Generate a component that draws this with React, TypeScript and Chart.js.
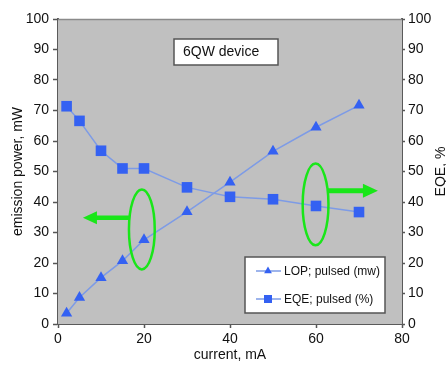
import { useEffect, useRef } from "react";
import { Chart, registerables } from "chart.js";
Chart.register(...registerables);

const currentMA = [2, 5, 10, 15, 20, 30, 40, 50, 60, 70];
const lopMW = [3.5, 8.7, 15.2, 20.7, 27.6, 36.8, 46.5, 56.6, 64.5, 71.7];
const eqePct = [71.4, 66.6, 56.8, 51.0, 51.0, 44.8, 41.7, 40.9, 38.7, 36.7];
const seriesNames = ["LOP; pulsed (mw)", "EQE; pulsed (%)"];
const xTitle = "current, mA";
const yLeftTitle = "emission power, mW";
const yRightTitle = "EQE, %";
const boxLabel = "6QW device";

const FONT = "'Liberation Sans', Arial, Helvetica, sans-serif";
const MARK = "#3461f2";
const LINE = "#7d9be6";
const GREEN = "#19e619";

function drawArrow(ctx: CanvasRenderingContext2D, x1: number, x2: number, y: number, shaft: number, headLen: number, headHalf: number) {
  const dir = Math.sign(x2 - x1);
  const hb = x2 - dir * headLen;
  ctx.fillStyle = GREEN;
  ctx.beginPath();
  ctx.moveTo(x1, y - shaft / 2);
  ctx.lineTo(hb, y - shaft / 2);
  ctx.lineTo(hb, y - headHalf);
  ctx.lineTo(x2, y);
  ctx.lineTo(hb, y + headHalf);
  ctx.lineTo(hb, y + shaft / 2);
  ctx.lineTo(x1, y + shaft / 2);
  ctx.closePath();
  ctx.fill();
}

const decor = {
  id: "decor",
  beforeDatasetsDraw(chart: any) {
    const { ctx, chartArea: a } = chart;
    ctx.save();
    ctx.fillStyle = "#c0c0c0";
    ctx.fillRect(a.left, a.top, a.right - a.left, a.bottom - a.top);
    ctx.strokeStyle = "#8a8a8a";
    ctx.lineWidth = 1.5;
    ctx.beginPath();
    ctx.moveTo(a.left, a.top + 0.5);
    ctx.lineTo(a.right, a.top + 0.5);
    ctx.stroke();
    ctx.restore();
  },
  afterDraw(chart: any) {
    const { ctx, chartArea: a, scales } = chart;
    const xs = scales.x;
    const ys = scales.y;
    ctx.save();
    // green ellipses and arrows
    ctx.strokeStyle = GREEN;
    ctx.lineWidth = 2.5;
    const pxu = (xs.getPixelForValue(10) - xs.getPixelForValue(0)) / 10;
    const pyu = (ys.getPixelForValue(0) - ys.getPixelForValue(10)) / 10;
    ctx.beginPath();
    ctx.ellipse(xs.getPixelForValue(19.5), ys.getPixelForValue(31.0), 3.0 * pxu, 13.1 * pyu, 0, 0, Math.PI * 2);
    ctx.stroke();
    ctx.beginPath();
    ctx.ellipse(xs.getPixelForValue(59.9), ys.getPixelForValue(39.2), 3.0 * pxu, 13.4 * pyu, 0, 0, Math.PI * 2);
    ctx.stroke();
    drawArrow(ctx, xs.getPixelForValue(16.5), xs.getPixelForValue(5.8), ys.getPixelForValue(34.8), 4.5, 14, 6.5);
    drawArrow(ctx, xs.getPixelForValue(62.8), xs.getPixelForValue(74.4), ys.getPixelForValue(43.7), 5, 15, 7);

    // 6QW device box
    const bx = a.left + 116, by = a.top + 20, bw = 104, bh = 26;
    ctx.fillStyle = "#ffffff";
    ctx.fillRect(bx, by, bw, bh);
    ctx.strokeStyle = "#555";
    ctx.lineWidth = 1.5;
    ctx.strokeRect(bx, by, bw, bh);
    ctx.fillStyle = "#111";
    ctx.font = `14px ${FONT}`;
    ctx.textBaseline = "middle";
    ctx.textAlign = "left";
    ctx.fillText(boxLabel, bx + 9, by + bh / 2 + 0.5);

    // legend box
    const lx = a.left + 187, ly = a.top + 238, lw = 140, lh = 56;
    ctx.fillStyle = "#ffffff";
    ctx.fillRect(lx, ly, lw, lh);
    ctx.strokeStyle = "#555";
    ctx.lineWidth = 1.5;
    ctx.strokeRect(lx, ly, lw, lh);
    const rows = [ly + 14, ly + 42];
    ctx.font = `12px ${FONT}`;
    rows.forEach((ry, i) => {
      ctx.strokeStyle = LINE;
      ctx.lineWidth = 1.5;
      ctx.beginPath();
      ctx.moveTo(lx + 11, ry);
      ctx.lineTo(lx + 36, ry);
      ctx.stroke();
      ctx.fillStyle = MARK;
      const cx = lx + 23;
      if (i === 0) {
        const r = 4.5;
        ctx.beginPath();
        ctx.moveTo(cx, ry - r);
        ctx.lineTo(cx + r * 0.866, ry + r * 0.5);
        ctx.lineTo(cx - r * 0.866, ry + r * 0.5);
        ctx.closePath();
        ctx.fill();
      } else {
        ctx.fillRect(cx - 4, ry - 4, 8, 8);
      }
      ctx.fillStyle = "#111";
      ctx.textBaseline = "middle";
      ctx.fillText(seriesNames[i], lx + 39, ry + 0.5);
    });

    // axis titles
    ctx.fillStyle = "#111";
    ctx.font = `14px ${FONT}`;
    ctx.textAlign = "center";
    ctx.textBaseline = "middle";
    ctx.fillText(xTitle, (a.left + a.right) / 2, 355);
    const cy = (a.top + a.bottom) / 2;
    ctx.save();
    ctx.translate(18, cy);
    ctx.rotate(-Math.PI / 2);
    ctx.fillText(yLeftTitle, 0, 0);
    ctx.restore();
    ctx.save();
    ctx.translate(441, cy);
    ctx.rotate(-Math.PI / 2);
    ctx.fillText(yRightTitle, 0, 0);
    ctx.restore();
    ctx.restore();
  },
};

export default function App() {
  const ref = useRef<HTMLCanvasElement>(null);
  useEffect(() => {
    if (!ref.current) return;
    const tickFont = { family: FONT, size: 14 };
    const chart = new Chart(ref.current, {
      type: "line",
      data: {
        datasets: [
          {
            label: seriesNames[0],
            data: currentMA.map((x, i) => ({ x, y: lopMW[i] })),
            yAxisID: "y",
            borderColor: LINE,
            borderWidth: 1.5,
            backgroundColor: MARK,
            pointBackgroundColor: MARK,
            pointBorderColor: MARK,
            pointStyle: "triangle",
            pointRadius: 6.5,
            pointBorderWidth: 0,
            tension: 0,
          },
          {
            label: seriesNames[1],
            data: currentMA.map((x, i) => ({ x, y: eqePct[i] })),
            yAxisID: "y1",
            borderColor: LINE,
            borderWidth: 1.5,
            backgroundColor: MARK,
            pointBackgroundColor: MARK,
            pointBorderColor: MARK,
            pointStyle: "rect",
            pointRadius: 7.5,
            pointBorderWidth: 0,
            tension: 0,
          },
        ],
      },
      options: {
        responsive: false,
        animation: false,
        layout: { padding: { top: 19, left: 0, right: 0, bottom: 0 } },
        plugins: { legend: { display: false }, tooltip: { enabled: false } },
        scales: {
          x: {
            type: "linear",
            min: 0,
            max: 80,
            afterFit: (s: any) => { s.height = 43; },
            ticks: { stepSize: 20, font: tickFont, color: "#111", padding: 3, maxRotation: 0 },
            grid: { drawOnChartArea: false, tickLength: 4, tickColor: "#555", tickWidth: 1.5 },
            border: { color: "#5a5a5a", width: 2 },
          },
          y: {
            position: "left",
            min: 0,
            max: 100,
            afterFit: (s: any) => { s.width = 58; },
            ticks: { stepSize: 10, font: tickFont, color: "#111", padding: 4 },
            grid: { drawOnChartArea: false, tickLength: 5, tickColor: "#555", tickWidth: 1.5 },
            border: { color: "#5a5a5a", width: 2 },
          },
          y1: {
            position: "right",
            min: 0,
            max: 100,
            afterFit: (s: any) => { s.width = 44; },
            ticks: { stepSize: 10, font: tickFont, color: "#111", padding: 3 },
            grid: { drawOnChartArea: false, tickLength: 3, tickColor: "#555", tickWidth: 1.5 },
            border: { color: "#5a5a5a", width: 2 },
          },
        },
      },
      plugins: [decor],
    } as any);
    return () => chart.destroy();
  }, []);
  return (
    <div style={{ position: "absolute", left: 0, top: 0, width: 446, height: 367, background: "#fff" }}>
      <canvas ref={ref} width={446} height={367} style={{ display: "block" }} />
    </div>
  );
}
